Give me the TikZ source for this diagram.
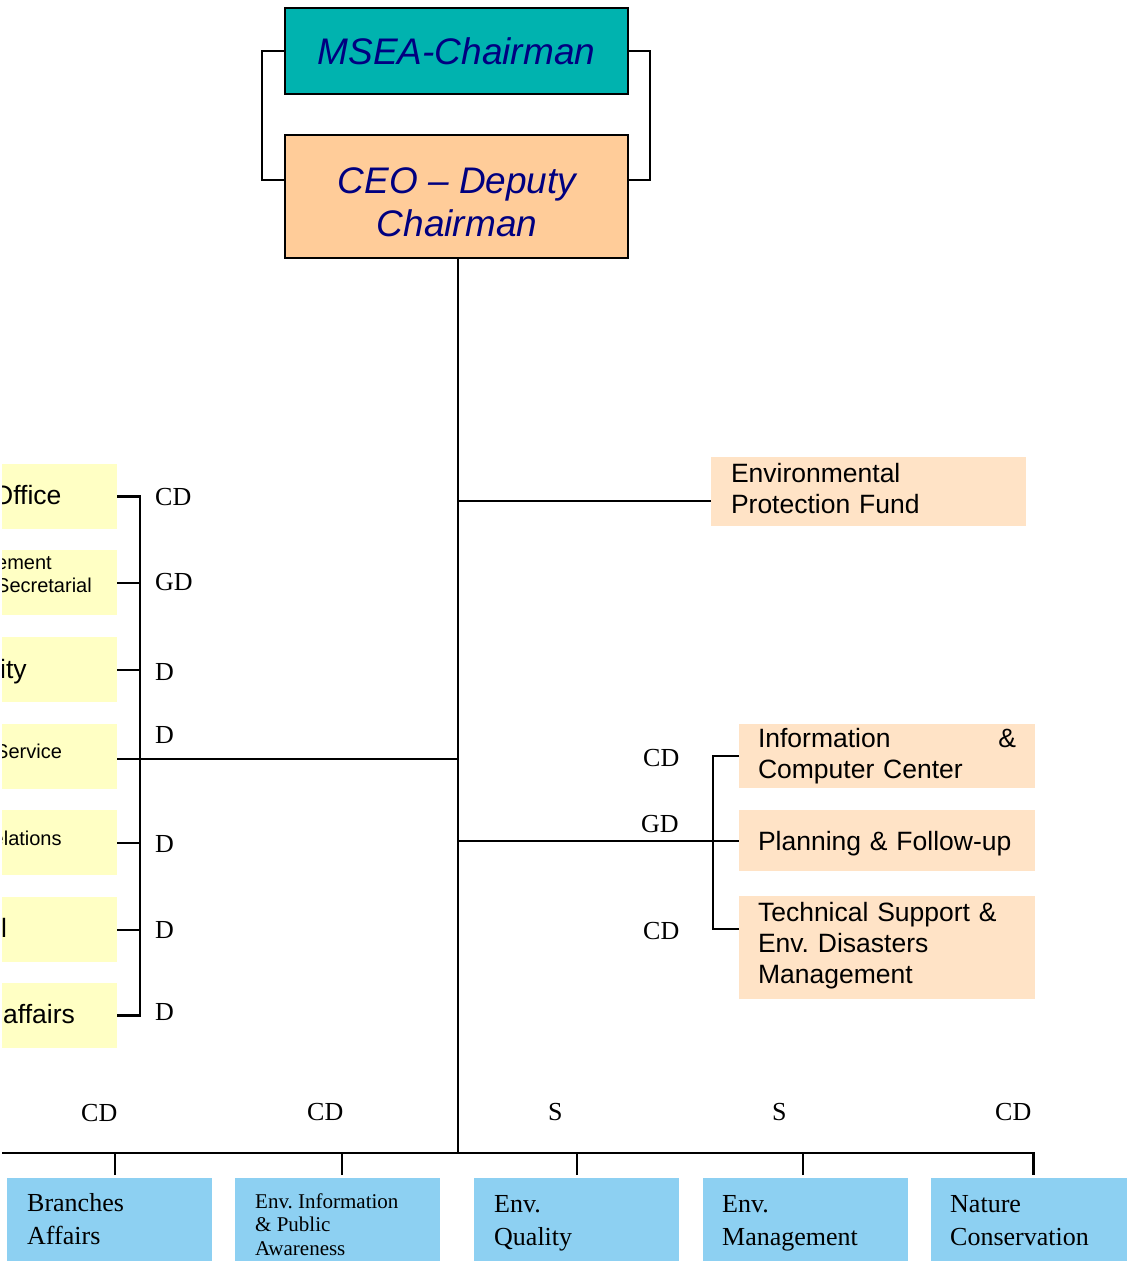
\documentclass[tikz,border=0pt]{standalone}
\usepackage{fontspec}
\setmainfont{Liberation Serif}
\newfontfamily\arialfam{Liberation Sans}
\frenchspacing
\definecolor{tealbox}{HTML}{00B3AF}
\definecolor{ceopeach}{HTML}{FFCC99}
\definecolor{lightpeach}{HTML}{FFE3C6}
\definecolor{paleyellow}{HTML}{FFFFC4}
\definecolor{skyblue}{HTML}{8DD0F2}
\definecolor{navytext}{HTML}{000080}
\begin{document}
\begin{tikzpicture}[x=1pt,y=-1pt,
  conn/.style={line width=2pt,black},
  spinestyle/.style={line width=2.4pt,black},
  area/.style={rectangle,inner sep=0pt,outer sep=0pt,anchor=north west},
  headbox/.style={area,draw=black,line width=2pt,minimum width=343pt},
  headfont/.style={font=\arialfam\itshape\fontsize{37}{43}\selectfont,text=navytext},
  sans/.style={font=\arialfam\fontsize{26.5}{31}\selectfont},
  sanssmall/.style={font=\arialfam\fontsize{20}{23.5}\selectfont},
  serif/.style={font=\fontsize{26}{33}\selectfont},
  serifsmall/.style={font=\fontsize{21}{23.5}\selectfont},
  tag/.style={font=\fontsize{26}{30}\selectfont,inner sep=0pt,anchor=west},
  cut/.style={inner sep=0pt,anchor=base west},
  rightbox/.style={area,fill=lightpeach,minimum width=296pt,inner xsep=19pt,text width=258pt,align=left,sans},
  leftbox/.style={area,fill=paleyellow,minimum width=115pt,minimum height=65pt},
  bottombox/.style={area,fill=skyblue,minimum width=205pt,minimum height=120pt},
  btext/.style={inner sep=0pt,anchor=north west,align=left},
]
\path[use as bounding box] (0,0) rectangle (1127,1261);
\clip (0,0) rectangle (1127,1261);

% top boxes
\node[headbox,fill=tealbox,minimum height=86pt,headfont] (msea) at (285,8) {MSEA-Chairman};
\node[headbox,fill=ceopeach,minimum height=123pt] (ceo) at (285,135) {};
\node[anchor=north,inner sep=0pt,align=center,headfont] (ceotext) at (457,167) {CEO – Deputy\\Chairman};
\draw[conn] (msea.west) -- ++(-23,0) |- ([yshift=16.5pt]ceo.west);
\draw[conn] (msea.east) -- ++(22,0) |- ([yshift=16.5pt]ceo.east);

% spine
\coordinate (bus) at (458,1153);
\draw[spinestyle] (ceo.south -| bus) -- (bus);

% environmental protection fund
\node[area,fill=lightpeach,minimum width=315pt,minimum height=69pt,inner xsep=20pt,text width=275pt,align=left,sans] (epf) at (711,457) {Environmental\\Protection Fund\rule[-6pt]{0pt}{6pt}};
\coordinate (epfjoin) at ([yshift=-9.5pt]epf.west);
\draw[conn] (epfjoin -| bus) -- (epfjoin);

% right group
\node[rightbox,minimum height=64pt] (info) at (739,724) {Information\hfill\&\\Computer Center};
\node[rightbox,minimum height=61pt,text depth=0pt] (plan) at (739,810) {Planning \& Follow-up};
\node[rightbox,minimum height=103pt] (tech) at (739,896) {Technical Support \&\\Env. Disasters\\Management\rule[-9.6pt]{0pt}{9.6pt}};
\draw[conn] (plan.west -| bus) -- (plan.west);
\draw[conn] (info.west) -- ++(-26,0) |- ([yshift=18.5pt]tech.west);
\node[tag] (rl1) at (643,758) {CD};
\node[tag] (rl2) at (641,824) {GD};
\node[tag] (rl3) at (643,931) {CD};

% left group
\node[leftbox] (l1) at (2,464) {};
\node[leftbox] (l2) at (2,550) {};
\node[leftbox] (l3) at (2,637) {};
\node[leftbox] (l4) at (2,724) {};
\node[leftbox] (l5) at (2,810) {};
\node[leftbox] (l6) at (2,897) {};
\node[leftbox] (l7) at (2,983) {};
\begin{scope}
\clip (2,440) rectangle (117,1060);
\node[cut,sans] (t1) at (-7.5,504) {Office};
\node[anchor=north west,inner sep=0pt,align=left,sanssmall] (t2) at (-4,556) {ement\\Secretarial};
\node[cut,sans] (t3) at (0,678) {ity};
\node[cut,sanssmall] (t4) at (-5,758) {Service};
\node[cut,sanssmall] (t5) at (-7.5,845) {elations};
\node[cut,sans] (t6) at (1,937) {l};
\node[cut,sans] (t7) at (3,1023) {affairs};
\end{scope}
\draw[spinestyle] (l1.east) -- ++(23,0) |- (l7.east);
\foreach \n in {l2,l3,l5,l6} {\draw[conn] (\n.east) -- ++(23,0);}
\coordinate (svcjoin) at ([yshift=-2.5pt]l4.east);
\draw[conn] (svcjoin) -- (svcjoin -| bus);
\node[tag] (ll1) at (155,497) {CD};
\node[tag] (ll2) at (155,582) {GD};
\node[tag] (ll3) at (155,672) {D};
\node[tag] (ll4) at (155,735) {D};
\node[tag] (ll5) at (155,844) {D};
\node[tag] (ll6) at (155,930) {D};
\node[tag] (ll7) at (155,1012) {D};

% bottom group
\node[bottombox] (b1) at (7,1178) {};
\node[bottombox] (b2) at (235,1178) {};
\node[bottombox] (b3) at (474,1178) {};
\node[bottombox] (b4) at (703,1178) {};
\node[bottombox] (b5) at (931,1178) {};
\coordinate (busL) at (2,1153);
\draw[spinestyle] (busL) -- (b5.north |- bus) -- ([yshift=3pt]b5.north);
\draw[conn] ([xshift=5.5pt,yshift=3pt]b1.north) -- ++(0,-22);
\draw[conn] ([xshift=4.5pt,yshift=3pt]b2.north) -- ++(0,-22);
\draw[conn] ([xshift=0.5pt,yshift=3pt]b3.north) -- ++(0,-22);
\draw[conn] ([xshift=-2.5pt,yshift=3pt]b4.north) -- ++(0,-22);
\node[btext,serif] (bt1) at (27,1193) {Branches\\Affairs};
\begin{scope}
\clip (235,1178) rectangle (440,1256);
\node[btext,serifsmall] (bt2) at (255,1193) {Env. Information\\\& Public\\Awareness};
\end{scope}
\node[btext,serif] (bt3) at (494,1195) {Env.\\Quality};
\node[btext,serif] (bt4) at (722,1195) {Env.\\Management};
\node[btext,serif] (bt5) at (950,1195) {Nature\\Conservation};
\node[tag] (bl1) at (81,1113) {CD};
\node[tag] (bl2) at (307,1112) {CD};
\node[tag] (bl3) at (548,1112) {S};
\node[tag] (bl4) at (772,1112) {S};
\node[tag] (bl5) at (995,1112) {CD};
\end{tikzpicture}
\end{document}
